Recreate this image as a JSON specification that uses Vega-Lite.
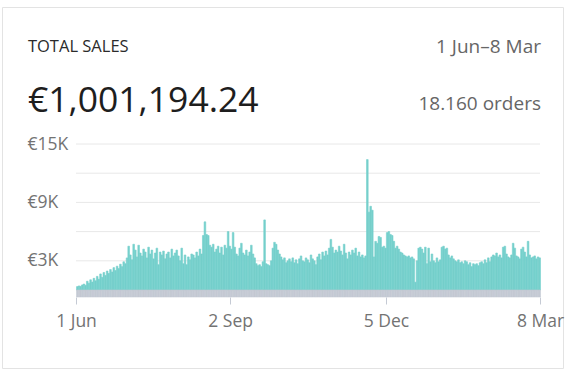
{
  "$schema": "https://vega.github.io/schema/vega-lite/v6.json",
  "width": 561,
  "height": 361,
  "autosize": "none",
  "padding": {"left": 2, "top": 7, "right": 4, "bottom": 10},
  "background": "white",
  "config": {
    "font": "Open Sans",
    "view": {"stroke": "#e3e3e3", "strokeWidth": 1}
  },
  "datasets": {
    "grid": [{"g": 0}, {"g": 3000}, {"g": 6000}, {"g": 9000}, {"g": 12000}, {"g": 15000}],
    "sales": [
      {"d": "2018-06-01", "v": 350}, {"d": "2018-06-02", "v": 420}, {"d": "2018-06-03", "v": 380}, {"d": "2018-06-04", "v": 520}, {"d": "2018-06-05", "v": 610},
      {"d": "2018-06-06", "v": 480}, {"d": "2018-06-07", "v": 900}, {"d": "2018-06-08", "v": 700}, {"d": "2018-06-09", "v": 1050}, {"d": "2018-06-10", "v": 820},
      {"d": "2018-06-11", "v": 1200}, {"d": "2018-06-12", "v": 950}, {"d": "2018-06-13", "v": 1400}, {"d": "2018-06-14", "v": 1100}, {"d": "2018-06-15", "v": 1650},
      {"d": "2018-06-16", "v": 1300}, {"d": "2018-06-17", "v": 1800}, {"d": "2018-06-18", "v": 1500}, {"d": "2018-06-19", "v": 1950}, {"d": "2018-06-20", "v": 1700},
      {"d": "2018-06-21", "v": 2100}, {"d": "2018-06-22", "v": 1850}, {"d": "2018-06-23", "v": 2300}, {"d": "2018-06-24", "v": 2000}, {"d": "2018-06-25", "v": 2450},
      {"d": "2018-06-26", "v": 2200}, {"d": "2018-06-27", "v": 2650}, {"d": "2018-06-28", "v": 2400}, {"d": "2018-06-29", "v": 2900}, {"d": "2018-06-30", "v": 2700},
      {"d": "2018-07-01", "v": 3300}, {"d": "2018-07-02", "v": 4500}, {"d": "2018-07-03", "v": 3600}, {"d": "2018-07-04", "v": 3100}, {"d": "2018-07-05", "v": 4700},
      {"d": "2018-07-06", "v": 4100}, {"d": "2018-07-07", "v": 3400}, {"d": "2018-07-08", "v": 4600}, {"d": "2018-07-09", "v": 3800}, {"d": "2018-07-10", "v": 3500},
      {"d": "2018-07-11", "v": 4200}, {"d": "2018-07-12", "v": 3900}, {"d": "2018-07-13", "v": 3300}, {"d": "2018-07-14", "v": 4400}, {"d": "2018-07-15", "v": 3700},
      {"d": "2018-07-16", "v": 4100}, {"d": "2018-07-17", "v": 3200}, {"d": "2018-07-18", "v": 3800}, {"d": "2018-07-19", "v": 4300}, {"d": "2018-07-20", "v": 2600},
      {"d": "2018-07-21", "v": 3900}, {"d": "2018-07-22", "v": 3600}, {"d": "2018-07-23", "v": 4000}, {"d": "2018-07-24", "v": 3200}, {"d": "2018-07-25", "v": 3700},
      {"d": "2018-07-26", "v": 3900}, {"d": "2018-07-27", "v": 3300}, {"d": "2018-07-28", "v": 4200}, {"d": "2018-07-29", "v": 3500}, {"d": "2018-07-30", "v": 3800},
      {"d": "2018-07-31", "v": 4100},
      {"d": "2018-08-01", "v": 3500}, {"d": "2018-08-02", "v": 3000}, {"d": "2018-08-03", "v": 4300}, {"d": "2018-08-04", "v": 2700}, {"d": "2018-08-05", "v": 3600},
      {"d": "2018-08-06", "v": 2600}, {"d": "2018-08-07", "v": 3400}, {"d": "2018-08-08", "v": 3100}, {"d": "2018-08-09", "v": 3700}, {"d": "2018-08-10", "v": 3600},
      {"d": "2018-08-11", "v": 3300}, {"d": "2018-08-12", "v": 3900}, {"d": "2018-08-13", "v": 3500}, {"d": "2018-08-14", "v": 4200}, {"d": "2018-08-15", "v": 3700},
      {"d": "2018-08-16", "v": 5600}, {"d": "2018-08-17", "v": 7000}, {"d": "2018-08-18", "v": 5700}, {"d": "2018-08-19", "v": 5600}, {"d": "2018-08-20", "v": 4600},
      {"d": "2018-08-21", "v": 4400}, {"d": "2018-08-22", "v": 4700}, {"d": "2018-08-23", "v": 3900}, {"d": "2018-08-24", "v": 4200}, {"d": "2018-08-25", "v": 4500},
      {"d": "2018-08-26", "v": 3800}, {"d": "2018-08-27", "v": 4400}, {"d": "2018-08-28", "v": 3600}, {"d": "2018-08-29", "v": 4600}, {"d": "2018-08-30", "v": 4300},
      {"d": "2018-08-31", "v": 6000},
      {"d": "2018-09-01", "v": 4500}, {"d": "2018-09-02", "v": 4200}, {"d": "2018-09-03", "v": 5900}, {"d": "2018-09-04", "v": 4400}, {"d": "2018-09-05", "v": 3700},
      {"d": "2018-09-06", "v": 3500}, {"d": "2018-09-07", "v": 4300}, {"d": "2018-09-08", "v": 4800}, {"d": "2018-09-09", "v": 3800}, {"d": "2018-09-10", "v": 3600},
      {"d": "2018-09-11", "v": 4100}, {"d": "2018-09-12", "v": 3500}, {"d": "2018-09-13", "v": 3900}, {"d": "2018-09-14", "v": 4600}, {"d": "2018-09-15", "v": 3700},
      {"d": "2018-09-16", "v": 3300}, {"d": "2018-09-17", "v": 2700}, {"d": "2018-09-18", "v": 2500}, {"d": "2018-09-19", "v": 2600}, {"d": "2018-09-20", "v": 2400},
      {"d": "2018-09-21", "v": 2900}, {"d": "2018-09-22", "v": 7200}, {"d": "2018-09-23", "v": 2700}, {"d": "2018-09-24", "v": 2600}, {"d": "2018-09-25", "v": 2500},
      {"d": "2018-09-26", "v": 3000}, {"d": "2018-09-27", "v": 4300}, {"d": "2018-09-28", "v": 4900}, {"d": "2018-09-29", "v": 4700}, {"d": "2018-09-30", "v": 4100},
      {"d": "2018-10-01", "v": 3700}, {"d": "2018-10-02", "v": 3400}, {"d": "2018-10-03", "v": 3100}, {"d": "2018-10-04", "v": 3300}, {"d": "2018-10-05", "v": 2800},
      {"d": "2018-10-06", "v": 3000}, {"d": "2018-10-07", "v": 3200}, {"d": "2018-10-08", "v": 2900}, {"d": "2018-10-09", "v": 3300}, {"d": "2018-10-10", "v": 2800},
      {"d": "2018-10-11", "v": 3100}, {"d": "2018-10-12", "v": 2700}, {"d": "2018-10-13", "v": 3200}, {"d": "2018-10-14", "v": 3500}, {"d": "2018-10-15", "v": 3000},
      {"d": "2018-10-16", "v": 2900}, {"d": "2018-10-17", "v": 3300}, {"d": "2018-10-18", "v": 3100}, {"d": "2018-10-19", "v": 2800}, {"d": "2018-10-20", "v": 3600},
      {"d": "2018-10-21", "v": 3200}, {"d": "2018-10-22", "v": 3000}, {"d": "2018-10-23", "v": 2600}, {"d": "2018-10-24", "v": 3400}, {"d": "2018-10-25", "v": 3700},
      {"d": "2018-10-26", "v": 3100}, {"d": "2018-10-27", "v": 3900}, {"d": "2018-10-28", "v": 3500}, {"d": "2018-10-29", "v": 4000}, {"d": "2018-10-30", "v": 3600},
      {"d": "2018-10-31", "v": 4300},
      {"d": "2018-11-01", "v": 5200}, {"d": "2018-11-02", "v": 4400}, {"d": "2018-11-03", "v": 3800}, {"d": "2018-11-04", "v": 4100}, {"d": "2018-11-05", "v": 3900},
      {"d": "2018-11-06", "v": 4500}, {"d": "2018-11-07", "v": 4000}, {"d": "2018-11-08", "v": 3600}, {"d": "2018-11-09", "v": 4700}, {"d": "2018-11-10", "v": 3800},
      {"d": "2018-11-11", "v": 3200}, {"d": "2018-11-12", "v": 3900}, {"d": "2018-11-13", "v": 3600}, {"d": "2018-11-14", "v": 4100}, {"d": "2018-11-15", "v": 3800},
      {"d": "2018-11-16", "v": 4300}, {"d": "2018-11-17", "v": 3500}, {"d": "2018-11-18", "v": 3900}, {"d": "2018-11-19", "v": 3400}, {"d": "2018-11-20", "v": 3600},
      {"d": "2018-11-21", "v": 3300}, {"d": "2018-11-22", "v": 3500}, {"d": "2018-11-23", "v": 13400}, {"d": "2018-11-24", "v": 8000}, {"d": "2018-11-25", "v": 8600},
      {"d": "2018-11-26", "v": 8200}, {"d": "2018-11-27", "v": 3400}, {"d": "2018-11-28", "v": 5000}, {"d": "2018-11-29", "v": 4800}, {"d": "2018-11-30", "v": 5500},
      {"d": "2018-12-01", "v": 5400}, {"d": "2018-12-02", "v": 4400}, {"d": "2018-12-03", "v": 4500}, {"d": "2018-12-04", "v": 4300}, {"d": "2018-12-05", "v": 5900},
      {"d": "2018-12-06", "v": 6000}, {"d": "2018-12-07", "v": 5700}, {"d": "2018-12-08", "v": 5600}, {"d": "2018-12-09", "v": 5000}, {"d": "2018-12-10", "v": 4300},
      {"d": "2018-12-11", "v": 4500}, {"d": "2018-12-12", "v": 4200}, {"d": "2018-12-13", "v": 3900}, {"d": "2018-12-14", "v": 3800}, {"d": "2018-12-15", "v": 3600},
      {"d": "2018-12-16", "v": 3500}, {"d": "2018-12-17", "v": 3400}, {"d": "2018-12-18", "v": 3500}, {"d": "2018-12-19", "v": 3300}, {"d": "2018-12-20", "v": 3400},
      {"d": "2018-12-21", "v": 3200}, {"d": "2018-12-22", "v": 800}, {"d": "2018-12-23", "v": 3000}, {"d": "2018-12-24", "v": 4300}, {"d": "2018-12-25", "v": 4400},
      {"d": "2018-12-26", "v": 4200}, {"d": "2018-12-27", "v": 3800}, {"d": "2018-12-28", "v": 4400}, {"d": "2018-12-29", "v": 2700}, {"d": "2018-12-30", "v": 4300},
      {"d": "2018-12-31", "v": 2900},
      {"d": "2019-01-01", "v": 3700}, {"d": "2019-01-02", "v": 3000}, {"d": "2019-01-03", "v": 2800}, {"d": "2019-01-04", "v": 3300}, {"d": "2019-01-05", "v": 2900},
      {"d": "2019-01-06", "v": 3100}, {"d": "2019-01-07", "v": 4400}, {"d": "2019-01-08", "v": 4500}, {"d": "2019-01-09", "v": 4200}, {"d": "2019-01-10", "v": 4300},
      {"d": "2019-01-11", "v": 3600}, {"d": "2019-01-12", "v": 3300}, {"d": "2019-01-13", "v": 3500}, {"d": "2019-01-14", "v": 3200}, {"d": "2019-01-15", "v": 3000},
      {"d": "2019-01-16", "v": 2900}, {"d": "2019-01-17", "v": 3100}, {"d": "2019-01-18", "v": 2800}, {"d": "2019-01-19", "v": 2900}, {"d": "2019-01-20", "v": 2700},
      {"d": "2019-01-21", "v": 3000}, {"d": "2019-01-22", "v": 2900}, {"d": "2019-01-23", "v": 2600}, {"d": "2019-01-24", "v": 2800}, {"d": "2019-01-25", "v": 2400},
      {"d": "2019-01-26", "v": 2700}, {"d": "2019-01-27", "v": 2600}, {"d": "2019-01-28", "v": 2700}, {"d": "2019-01-29", "v": 2500}, {"d": "2019-01-30", "v": 2800},
      {"d": "2019-01-31", "v": 2900},
      {"d": "2019-02-01", "v": 2700}, {"d": "2019-02-02", "v": 3100}, {"d": "2019-02-03", "v": 2800}, {"d": "2019-02-04", "v": 3300}, {"d": "2019-02-05", "v": 2900},
      {"d": "2019-02-06", "v": 3400}, {"d": "2019-02-07", "v": 3600}, {"d": "2019-02-08", "v": 3500}, {"d": "2019-02-09", "v": 3800}, {"d": "2019-02-10", "v": 3400},
      {"d": "2019-02-11", "v": 3600}, {"d": "2019-02-12", "v": 3300}, {"d": "2019-02-13", "v": 4400}, {"d": "2019-02-14", "v": 4500}, {"d": "2019-02-15", "v": 3700},
      {"d": "2019-02-16", "v": 3400}, {"d": "2019-02-17", "v": 3300}, {"d": "2019-02-18", "v": 3600}, {"d": "2019-02-19", "v": 4800}, {"d": "2019-02-20", "v": 4300},
      {"d": "2019-02-21", "v": 3500}, {"d": "2019-02-22", "v": 3400}, {"d": "2019-02-23", "v": 3200}, {"d": "2019-02-24", "v": 4200}, {"d": "2019-02-25", "v": 4400},
      {"d": "2019-02-26", "v": 3900}, {"d": "2019-02-27", "v": 3400}, {"d": "2019-02-28", "v": 5000},
      {"d": "2019-03-01", "v": 3600}, {"d": "2019-03-02", "v": 3300}, {"d": "2019-03-03", "v": 3400}, {"d": "2019-03-04", "v": 3500}, {"d": "2019-03-05", "v": 3200},
      {"d": "2019-03-06", "v": 3400}, {"d": "2019-03-07", "v": 3300}
    ]
  },
  "layer": [
    {
      "data": {"name": "grid"},
      "mark": {"type": "rule", "color": "#e8e8e8", "strokeWidth": 1},
      "encoding": {
        "y": {
          "field": "g", "type": "quantitative",
          "scale": {"domain": [0, 15000], "range": [283, 137], "nice": false, "zero": false},
          "axis": {"values": [3000, 9000, 15000], "labelExpr": "'€' + (datum.value / 1000) + 'K'", "ticks": false, "domain": false, "grid": false, "labelAlign": "left", "labelBaseline": "middle", "labelPadding": -25, "labelFontSize": 17.5, "labelColor": "#737373", "title": null}
        },
        "x": {
          "datum": {"year": 2018, "month": 6, "date": 1, "utc": true}, "type": "temporal",
          "scale": {"type": "utc", "domain": [{"year": 2018, "month": 6, "date": 1, "utc": true}, {"year": 2019, "month": 3, "date": 8, "utc": true}], "range": [74, 538]},
          "axis": {"values": [{"year": 2018, "month": 6, "date": 1, "utc": true}, {"year": 2018, "month": 9, "date": 2, "utc": true}, {"year": 2018, "month": 12, "date": 5, "utc": true}, {"year": 2019, "month": 3, "date": 8, "utc": true}], "format": "%-d %b", "offset": -71, "tickSize": 7, "tickColor": "#c5cad4", "domain": false, "grid": false, "labelPadding": 8, "labelFontSize": 17.5, "labelColor": "#737373", "labelFlush": false, "labelOverlap": false, "title": null}
        },
        "x2": {"datum": {"year": 2019, "month": 3, "date": 8, "utc": true}}
      }
    },
    {
      "data": {"name": "sales"},
      "mark": {"type": "bar", "color": "#76d0cc", "stroke": "#76d0cc", "strokeWidth": 0.6, "binSpacing": 0},
      "encoding": {
        "x": {"field": "d", "type": "temporal", "timeUnit": "utcyearmonthdate"},
        "y": {"field": "v", "type": "quantitative"}
      }
    },
    {
      "data": {"name": "sales"},
      "mark": {"type": "bar", "color": "#c5cad4", "stroke": "#c5cad4", "strokeWidth": 0.6, "binSpacing": 0},
      "encoding": {
        "x": {"field": "d", "type": "temporal", "timeUnit": "utcyearmonthdate"},
        "y": {"datum": 0, "type": "quantitative"},
        "y2": {"datum": -720}
      }
    },
    {
      "data": {"values": [{"t": "TOTAL SALES"}]},
      "mark": {"type": "text", "align": "left", "baseline": "middle", "fontSize": 16.5, "color": "#2b2b2b"},
      "encoding": {
        "text": {"field": "t"},
        "x": {"datum": {"year": 2018, "month": 5, "date": 3, "utc": true}, "type": "temporal"},
        "y": {"datum": 25000, "type": "quantitative"}
      }
    },
    {
      "data": {"values": [{"t": "€1,001,194.24"}]},
      "mark": {"type": "text", "align": "left", "baseline": "middle", "fontSize": 35.5, "color": "#1e1e1e"},
      "encoding": {
        "text": {"field": "t"},
        "x": {"datum": {"year": 2018, "month": 5, "date": 3, "utc": true}, "type": "temporal"},
        "y": {"datum": 19400, "type": "quantitative"}
      }
    },
    {
      "data": {"values": [{"t": "1 Jun–8 Mar"}]},
      "mark": {"type": "text", "align": "right", "baseline": "middle", "fontSize": 19, "color": "#666666"},
      "encoding": {
        "text": {"field": "t"},
        "x": {"datum": {"year": 2019, "month": 3, "date": 8, "hours": 14, "utc": true}, "type": "temporal"},
        "y": {"datum": 25000, "type": "quantitative"}
      }
    },
    {
      "data": {"values": [{"t": "18.160 orders"}]},
      "mark": {"type": "text", "align": "right", "baseline": "middle", "fontSize": 19, "color": "#666666"},
      "encoding": {
        "text": {"field": "t"},
        "x": {"datum": {"year": 2019, "month": 3, "date": 8, "hours": 14, "utc": true}, "type": "temporal"},
        "y": {"datum": 19100, "type": "quantitative"}
      }
    }
  ]
}
